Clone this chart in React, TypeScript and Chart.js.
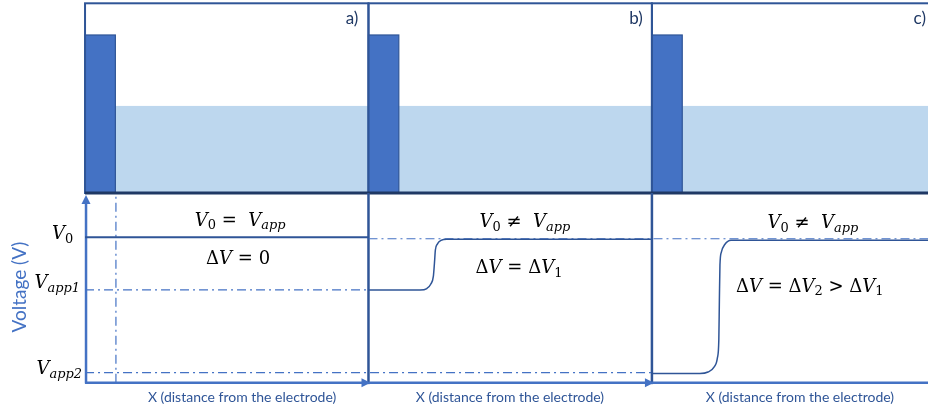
import React, { useEffect, useRef } from "react";
import { Chart, registerables } from "chart.js";

Chart.register(...registerables);

// ---------- layout in schematic units ----------
// x: distance units, every panel spans 10 units
const panelStarts = [0, 10, 20];
const panelWidth = 10;
const panelLabels = ["a)", "b)", "c)"];
const panelLabelX = [9.42, 19.44, 29.45];
const xAxisLabel = "X (distance from the electrode)";
const xAxisLabelX = [5.54, 14.99, 25.22];
const yAxisLabel = "Voltage (V)";

// top sketch (height units, frame = 100)
const frameHeight = 100;
const electrodeWidth = 1.07;
const electrodeHeight = 83.3;
const electrolyteHeight = 45.9;

// voltage levels (normalised, V0 = 1)
const V0 = 1.0;
const Vapp1 = 0.641;
const Vapp2 = 0.069;
const sectionTopV = 1.311;

// voltage profiles
const profileAX = [0, 10];
const profileAY = [1.005, 1.005];
const profileBX = [10.0, 11.82, 12.06, 12.2, 12.29, 12.33, 12.36, 12.43, 12.56, 12.77, 20.0];
const profileBY = [0.641, 0.641, 0.651, 0.682, 0.737, 0.834, 0.917, 0.958, 0.983, 0.991, 0.991];
const profileCX = [20.0, 21.69, 21.98, 22.19, 22.31, 22.36, 22.38, 22.4, 22.45, 22.57, 22.79, 29.74];
const profileCY = [0.064, 0.064, 0.074, 0.108, 0.171, 0.295, 0.572, 0.813, 0.903, 0.955, 0.984, 0.984];

// dash-dot reference lines
const refVapp1X = [0, 10];
const refVapp2X = [0, 20];
const refV0X = [10, 29.74];
const refV0Level = 0.995;
const surfaceX = 1.09;

// math annotations
type Run = [string, string];
const noteRuns: Run[][] = [
  [["V", "i"], ["0", "sn"], [" =  ", "n"], ["V", "i"], ["app", "si"]],
  [["Δ", "n"], ["V", "i"], [" = 0", "n"]],
  [["V", "i"], ["0", "sn"], [" ≠  ", "n"], ["V", "i"], ["app", "si"]],
  [["Δ", "n"], ["V", "i"], [" = Δ", "n"], ["V", "i"], ["1", "sn"]],
  [["V", "i"], ["0", "sn"], [" ≠  ", "n"], ["V", "i"], ["app", "si"]],
  [["Δ", "n"], ["V", "i"], [" = Δ", "n"], ["V", "i"], ["2", "sn"], [" > Δ", "n"], ["V", "i"], ["1", "sn"]],
];
const noteX = [5.47, 5.4, 15.52, 15.31, 25.68, 25.57];
const noteY = [1.131, 0.862, 1.12, 0.806, 1.113, 0.675];

const levelRuns: Run[][] = [
  [["V", "i"], ["0", "sn"]],
  [["V", "i"], ["app1", "si"]],
  [["V", "i"], ["app2", "si"]],
];
const levelLabelX = [-0.42, -0.176, -0.106];
const levelLabelY = [1.041, 0.696, 0.108];

const MATH_FONT = '"DejaVu Serif", serif';
const SANS = 'Lato, "Open Sans", sans-serif';

function pts(xs: number[], ys: number[]) {
  return xs.map((x, i) => ({ x, y: ys[i] }));
}

function drawMath(ctx: CanvasRenderingContext2D, runs: Run[], px: number, py: number, size: number, align: string) {
  const font = (k: string) => {
    const sub = k[0] === "s";
    const it = k.endsWith("i");
    const s = sub ? size * 0.72 : size;
    return `${it ? "italic " : ""}${s}px ${MATH_FONT}`;
  };
  let total = 0;
  const widths = runs.map(([t, k]) => {
    ctx.font = font(k);
    const w = ctx.measureText(t).width;
    total += w;
    return w;
  });
  let cx = align === "right" ? px - total : px - total / 2;
  const base = py + size * 0.36;
  ctx.textAlign = "left";
  ctx.textBaseline = "alphabetic";
  ctx.fillStyle = "#000000";
  runs.forEach(([t, k], i) => {
    ctx.font = font(k);
    ctx.fillText(t, cx, k[0] === "s" ? base + size * 0.22 : base);
    cx += widths[i];
  });
}

function arrow(ctx: CanvasRenderingContext2D, x: number, y: number, dir: string, color: string) {
  ctx.fillStyle = color;
  ctx.beginPath();
  if (dir === "up") {
    ctx.moveTo(x, y - 2);
    ctx.lineTo(x - 4.5, y + 7);
    ctx.lineTo(x + 4.5, y + 7);
  } else {
    ctx.moveTo(x + 2, y);
    ctx.lineTo(x - 7, y - 4.5);
    ctx.lineTo(x - 7, y + 4.5);
  }
  ctx.closePath();
  ctx.fill();
}

const diagramPlugin = {
  id: "diagram",
  beforeDatasetsDraw(chart: any) {
    const { ctx, scales, width } = chart;
    const x = (v: number) => scales.x.getPixelForValue(v);
    const y = (v: number) => scales.y.getPixelForValue(v);
    const t = (v: number) => scales.yTop.getPixelForValue(v);
    ctx.save();
    // top sketch
    panelStarts.forEach((s) => {
      const L = x(s);
      const R = x(s + panelWidth);
      ctx.fillStyle = "#BDD7EE";
      ctx.fillRect(L, t(electrolyteHeight), R - L, t(0) - t(electrolyteHeight));
      ctx.fillStyle = "#4472C4";
      ctx.fillRect(L, t(electrodeHeight), x(s + electrodeWidth) - L, t(0) - t(electrodeHeight));
      ctx.strokeStyle = "#2F5597";
      ctx.lineWidth = 1.2;
      ctx.strokeRect(L, t(electrodeHeight), x(s + electrodeWidth) - L, t(0) - t(electrodeHeight));
      ctx.lineWidth = 2;
      ctx.strokeRect(L, t(frameHeight), R - L, t(0) - t(frameHeight));
    });
    // divider
    ctx.strokeStyle = "#1F3864";
    ctx.lineWidth = 3;
    ctx.beginPath();
    ctx.moveTo(x(0), t(0));
    ctx.lineTo(width, t(0));
    ctx.stroke();
    // lower separators
    ctx.strokeStyle = "#2F5597";
    ctx.lineWidth = 2.5;
    [10, 20].forEach((s) => {
      ctx.beginPath();
      ctx.moveTo(x(s), y(sectionTopV));
      ctx.lineTo(x(s), y(-0.01));
      ctx.stroke();
    });
    // axes
    const axisColor = "#4472C4";
    ctx.strokeStyle = axisColor;
    ctx.lineWidth = 2.5;
    ctx.beginPath();
    ctx.moveTo(x(0.035), y(-0.005));
    ctx.lineTo(x(0.035), y(1.26));
    ctx.stroke();
    arrow(ctx, x(0.035), y(1.283), "up", axisColor);
    panelStarts.forEach((s) => {
      ctx.strokeStyle = axisColor;
      ctx.lineWidth = 2.5;
      ctx.beginPath();
      ctx.moveTo(x(s), y(0));
      ctx.lineTo(x(s + panelWidth) - 4, y(0));
      ctx.stroke();
      arrow(ctx, x(s + panelWidth), y(0), "right", axisColor);
    });
    ctx.restore();
  },
  afterDatasetsDraw(chart: any) {
    const { ctx, scales } = chart;
    const x = (v: number) => scales.x.getPixelForValue(v);
    const y = (v: number) => scales.y.getPixelForValue(v);
    const t = (v: number) => scales.yTop.getPixelForValue(v);
    ctx.save();
    // panel letters
    ctx.font = `17px ${SANS}`;
    ctx.fillStyle = "#1F3864";
    ctx.textAlign = "center";
    ctx.textBaseline = "middle";
    panelLabels.forEach((l, i) => ctx.fillText(l, x(panelLabelX[i]), t(92.2)));
    // x labels
    ctx.font = `14px ${SANS}`;
    ctx.fillStyle = "#2F5597";
    xAxisLabelX.forEach((v) => ctx.fillText(xAxisLabel, x(v), y(-0.099)));
    // y label
    ctx.save();
    ctx.translate(x(-2.29), y(0.661));
    ctx.rotate(-Math.PI / 2);
    ctx.font = `19px ${SANS}`;
    ctx.fillStyle = "#4472C4";
    ctx.fillText(yAxisLabel, 0, 0);
    ctx.restore();
    // math notes
    noteRuns.forEach((r, i) => drawMath(ctx, r, x(noteX[i]), y(noteY[i]), 18, "center"));
    levelRuns.forEach((r, i) => drawMath(ctx, r, x(levelLabelX[i]), y(levelLabelY[i]), 18, "right"));
    ctx.restore();
  },
};

export default function App() {
  const ref = useRef<HTMLCanvasElement>(null);
  useEffect(() => {
    if (!ref.current) return;
    const curve = "#2F5597";
    const dash = "#4472C4";
    const dashPattern = [9, 4, 2, 4];
    const chart = new Chart(ref.current, {
      type: "line",
      data: {
        datasets: [
          { data: pts(profileAX, profileAY), borderColor: curve, borderWidth: 2 },
          { data: pts(profileBX, profileBY), borderColor: curve, borderWidth: 1.5, cubicInterpolationMode: "monotone" },
          { data: pts(profileCX, profileCY), borderColor: curve, borderWidth: 1.5, cubicInterpolationMode: "monotone" },
          { data: pts(refVapp1X, [Vapp1, Vapp1]), borderColor: dash, borderWidth: 1.2, borderDash: dashPattern },
          { data: pts(refVapp2X, [Vapp2, Vapp2]), borderColor: dash, borderWidth: 1.2, borderDash: dashPattern },
          { data: pts(refV0X, [refV0Level, refV0Level]), borderColor: dash, borderWidth: 1.2, borderDash: dashPattern },
          { data: pts([surfaceX, surfaceX], [0, sectionTopV]), borderColor: dash, borderWidth: 1.2, borderDash: dashPattern },
        ] as any,
      },
      options: {
        animation: false,
        responsive: false,
        parsing: true,
        layout: { padding: 0 },
        elements: { point: { radius: 0 }, line: { fill: false } },
        datasets: { line: { clip: false as any } },
        plugins: { legend: { display: false }, tooltip: { enabled: false } },
        scales: {
          x: { type: "linear", min: -3, max: 29.74, display: false },
          y: { type: "linear", min: -0.2025, max: 2.645, display: false },
          yTop: { type: "linear", min: -115.45, max: 101.74, display: false },
        },
      } as any,
      plugins: [diagramPlugin],
    });
    return () => chart.destroy();
  }, []);
  return (
    <div style={{ position: "absolute", left: 0, top: 0, width: 928, height: 412, background: "#ffffff" }}>
      <canvas ref={ref} width={928} height={412} />
    </div>
  );
}
